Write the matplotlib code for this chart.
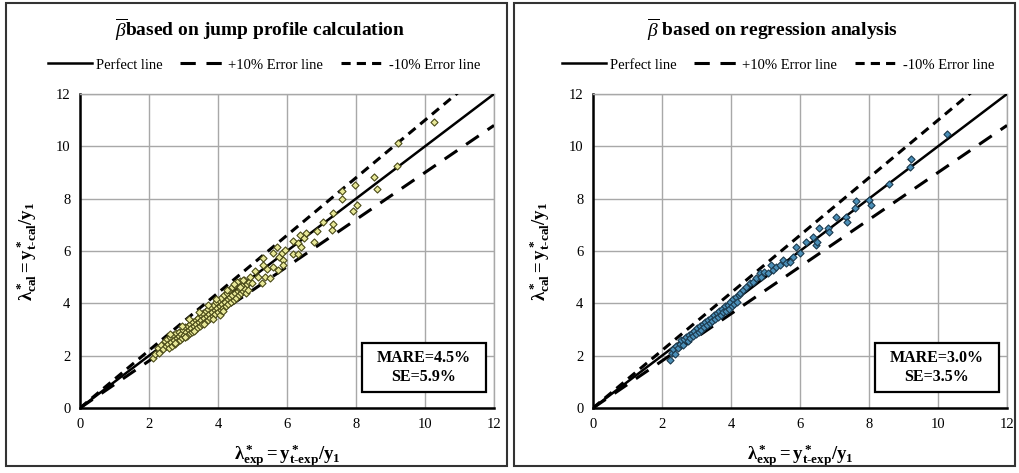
import matplotlib
matplotlib.use("Agg")
import matplotlib.pyplot as plt
from matplotlib.patches import Rectangle

plt.rcParams['font.family'] = ['Liberation Serif', 'DejaVu Serif']
plt.rcParams['mathtext.fontset'] = 'custom'
plt.rcParams['mathtext.rm'] = 'Liberation Serif'
plt.rcParams['mathtext.it'] = 'Liberation Serif:italic'
plt.rcParams['mathtext.bf'] = 'Liberation Serif:bold'

# lambda* from jump profile calculation (x = experiment, y = calculated)
jump_x = [2.12, 2.18, 2.25, 2.30, 2.35, 2.40, 2.45, 2.48, 2.52, 2.55, 2.58, 2.62, 2.65, 2.68,
          2.70, 2.72, 2.75, 2.78, 2.80, 2.83, 2.86, 2.88, 2.90, 2.93, 2.95, 2.98, 3.00, 3.03,
          3.05, 3.08, 3.10, 3.12, 3.15, 3.18, 3.20, 3.22, 3.25, 3.27, 3.30, 3.32, 3.35, 3.37,
          3.40, 3.42, 3.45, 3.47, 3.50, 3.52, 3.55, 3.57, 3.60, 3.62, 3.65, 3.67, 3.70, 3.72,
          3.75, 3.77, 3.80, 3.82, 3.85, 3.87, 3.90, 3.92, 3.95, 3.97, 4.00, 4.02, 4.05, 4.06,
          4.08, 4.10, 4.13, 4.15, 4.18, 4.20, 4.23, 4.25, 4.28, 4.30, 4.33, 4.35, 4.38, 4.40,
          4.42, 4.45, 4.48, 4.50, 4.53, 4.55, 4.58, 4.60, 4.63, 4.65, 4.68, 4.70, 4.73, 4.75,
          4.78, 4.80, 4.83, 4.86, 4.90,
          4.54, 4.64, 4.73, 4.93, 4.98, 5.07, 5.17, 5.27, 5.31, 5.31, 5.36, 5.41, 5.51, 5.60,
          5.60, 5.70, 5.73, 5.78, 5.85, 5.87, 5.89, 5.94, 6.16, 6.18, 6.33, 6.33, 6.38, 6.41,
          6.50, 6.55, 6.78, 6.88, 7.03, 7.31, 7.34, 7.34, 7.58, 7.58, 7.90, 7.97, 8.02, 8.53,
          8.62, 9.18, 9.23, 10.27,
          2.60, 2.95, 3.15, 3.45, 3.70, 3.95, 4.25, 4.45, 2.75, 3.05, 3.30, 3.60, 3.85, 4.15]
jump_y = [1.91, 2.05, 2.30, 2.12, 2.42, 2.25, 2.55, 2.36, 2.62, 2.44, 2.30, 2.70, 2.52, 2.38,
          2.78, 2.60, 2.45, 2.85, 2.68, 2.55, 2.92, 2.74, 2.60, 2.82, 2.66, 3.00, 2.80, 2.70,
          3.08, 2.90, 2.75, 3.15, 2.98, 2.85, 3.22, 3.05, 2.92, 3.30, 3.12, 2.98, 3.38, 3.20,
          3.05, 3.45, 3.28, 3.12, 3.55, 3.36, 3.20, 3.62, 3.44, 3.28, 3.70, 3.52, 3.35, 3.78,
          3.60, 3.44, 3.85, 3.68, 3.50, 3.95, 3.75, 3.58, 4.05, 3.82, 3.66, 4.12, 3.90, 3.55,
          3.74, 4.20, 3.98, 3.82, 4.30, 4.06, 3.90, 4.40, 4.15, 3.98, 4.50, 4.24, 4.06, 4.62,
          4.32, 4.14, 4.70, 4.40, 4.22, 4.78, 4.48, 4.30, 4.85, 4.56, 4.38, 4.66, 4.46, 4.88,
          4.56, 4.40, 4.72, 4.52, 4.80,
          4.83, 4.64, 4.89, 4.99, 4.76, 5.25, 5.02, 4.79, 5.72, 5.46, 5.02, 5.30, 4.98, 5.93,
          5.38, 6.16, 5.27, 5.76, 5.91, 5.66, 5.46, 6.04, 5.88, 6.38, 6.29, 5.88, 6.61, 6.16,
          6.51, 6.70, 6.36, 6.78, 7.10, 6.80, 7.44, 7.02, 8.30, 7.97, 7.53, 8.52, 7.76, 8.84,
          8.38, 9.25, 10.14, 10.94,
          2.82, 3.12, 3.40, 3.66, 3.95, 4.18, 4.52, 4.72, 2.48, 2.72, 2.95, 3.22, 3.40, 3.70]

# lambda* from regression analysis
reg_x = [2.22, 2.28, 2.33, 2.38, 2.42, 2.47, 2.52, 2.56, 2.60, 2.65, 2.70, 2.74, 2.78, 2.82,
         2.86, 2.90, 2.94, 2.98, 3.02, 3.06, 3.10, 3.14, 3.18, 3.22, 3.26, 3.30, 3.34, 3.38,
         3.42, 3.46, 3.50, 3.54, 3.58, 3.62, 3.66, 3.70, 3.74, 3.78, 3.82, 3.86, 3.90, 3.94,
         3.98, 4.02, 4.06, 4.10, 4.14, 4.18, 4.22,
         4.25, 4.35, 4.44, 4.54, 4.64, 4.73, 4.83, 4.88, 4.97, 5.07, 5.17, 5.21, 5.31, 5.41,
         5.50, 5.60, 5.70, 5.79, 5.89, 5.99, 6.18, 6.37, 6.47, 6.50, 6.56, 6.81, 6.85, 7.05,
         7.34, 7.36, 7.58, 7.61, 7.99, 8.06, 8.59, 9.20, 9.22, 10.25]
reg_y = [1.82, 2.10, 2.25, 2.05, 2.38, 2.30, 2.45, 2.58, 2.40, 2.62, 2.72, 2.55, 2.80, 2.66,
         2.88, 2.75, 2.96, 2.84, 3.05, 2.92, 3.15, 3.00, 3.22, 3.10, 3.30, 3.16, 3.38, 3.25,
         3.45, 3.32, 3.55, 3.40, 3.62, 3.48, 3.70, 3.56, 3.78, 3.65, 3.88, 3.72, 3.95, 3.80,
         4.05, 3.90, 4.15, 3.98, 4.24, 4.05, 4.32,
         4.38, 4.51, 4.64, 4.76, 4.83, 4.96, 5.15, 5.02, 5.21, 5.15, 5.46, 5.27, 5.40, 5.46,
         5.66, 5.53, 5.59, 5.78, 6.16, 5.91, 6.36, 6.55, 6.23, 6.36, 6.87, 6.87, 6.74, 7.31,
         7.31, 7.12, 7.63, 7.92, 7.95, 7.76, 8.56, 9.20, 9.50, 10.46]

line_x = [0, 12]
perfect = [0, 12]
plus10 = [0, 10.8]
minus10 = [0, 13.2]

panels = [
    (r'$\overline{\beta}$' + 'based on jump profile calculation', jump_x, jump_y,
     '#e8e898', '#4a4a18', 'MARE=4.5%\nSE=5.9%'),
    (r'$\overline{\beta}$' + ' based on regression analysis', reg_x, reg_y,
     '#4b8fb8', '#1b3a4e', 'MARE=3.0%\nSE=3.5%'),
]

xlab = r'$\mathbf{\lambda^*_{exp}{=}y^*_{t' + '\u2010' + r'exp}/y_1}$'
ylab = r'$\mathbf{\lambda^*_{cal}{=}y^*_{t' + '\u2010' + r'cal}/y_1}$'

W, H = 1019, 473
fig = plt.figure(figsize=(W / 100, H / 100), dpi=100)
lefts = [80, 593]
boxes = [(6, 507), (514, 1015)]
title_cx = [260, 773]
legend_cx = [264, 778]

for i, (title, xs, ys, fc, ec, stats) in enumerate(panels):
    ax = fig.add_axes([lefts[i] / W, 65 / H, 414 / W, 314 / H])
    ax.set_xlim(0, 12)
    ax.set_ylim(0, 12)
    ax.set_xticks(range(0, 13, 2))
    ax.set_yticks(range(0, 13, 2))
    ax.grid(True, color='#a8a8a8', linewidth=1.0)
    ax.set_axisbelow(True)
    for s in ['top', 'right']:
        ax.spines[s].set_color('#a8a8a8')
        ax.spines[s].set_linewidth(1.0)
    for s in ['left', 'bottom']:
        ax.spines[s].set_color('black')
        ax.spines[s].set_linewidth(1.8)
    ax.tick_params(length=0, labelsize=10.5, pad=7)

    ax.plot(line_x, perfect, color='black', lw=1.8, label='Perfect line', zorder=3)
    ax.plot(line_x, plus10, color='black', lw=2.2, dashes=(5, 3.5),
            label='+10% Error line', zorder=3)
    ax.plot(line_x, minus10, color='black', lw=2.2, dashes=(3, 2),
            label='-10% Error line', zorder=3)
    ax.scatter(xs, ys, marker='D', s=13, facecolor=fc, edgecolor=ec,
               linewidth=0.8, zorder=4, clip_on=False)

    ax.set_xlabel(xlab, fontsize=13.5)
    ax.xaxis.set_label_coords(0.5, -0.11)
    ax.set_ylabel(ylab, fontsize=13.5)
    ax.yaxis.set_label_coords(-0.10, 0.5)

    fig.text(title_cx[i] / W, 1 - 30 / H, title, ha='center', va='center',
             fontsize=14, fontweight='bold')
    handles, labels = ax.get_legend_handles_labels()
    fig.legend(handles, labels, loc='center', bbox_to_anchor=(legend_cx[i] / W, 1 - 65 / H),
               ncol=3, frameon=False, fontsize=10.5, handlelength=3.0,
               columnspacing=1.2, handletextpad=0.3)

    # statistics box
    ax.add_patch(Rectangle((0.681, 0.051), 0.30, 0.156, transform=ax.transAxes,
                           facecolor='white', edgecolor='black', linewidth=1.6,
                           zorder=6, clip_on=False))
    ax.text(0.831, 0.129, stats, transform=ax.transAxes, ha='center', va='center',
            fontsize=11.5, fontweight='bold', linespacing=1.2, zorder=7)

    x0, x1 = boxes[i]
    fig.patches.append(Rectangle((x0 / W, 7 / H), (x1 - x0) / W, 463 / H,
                                 transform=fig.transFigure, fill=False,
                                 edgecolor='#333333', linewidth=1.5))

fig.savefig('out.png', dpi=100)
